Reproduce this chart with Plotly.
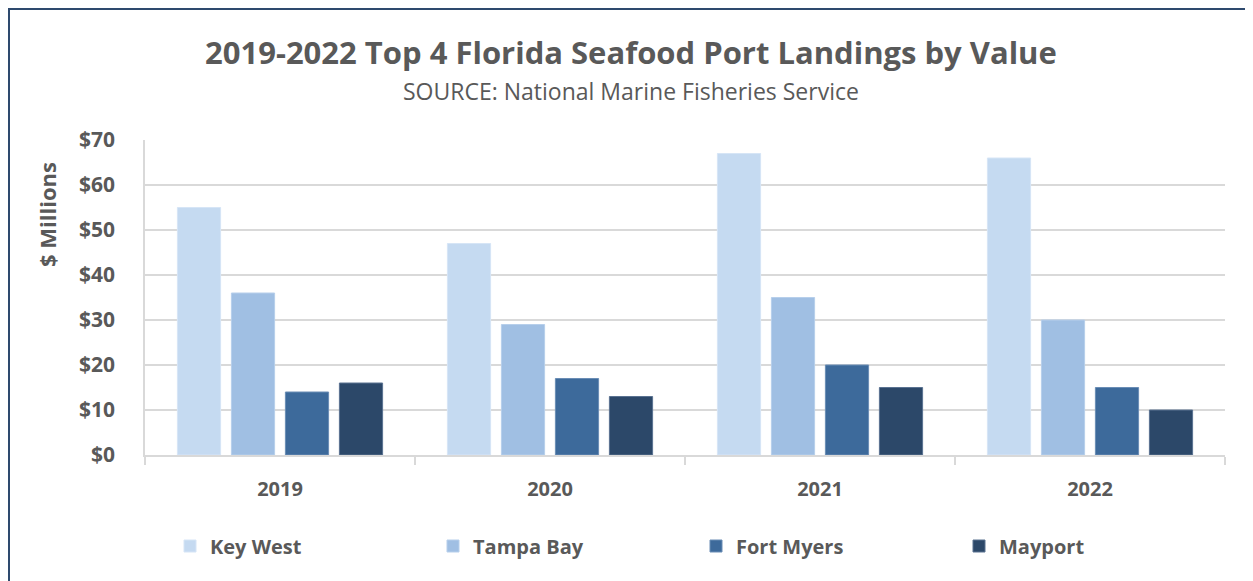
import plotly.graph_objects as go

years = ["2019", "2020", "2021", "2022"]
key_west = [55, 47, 67, 66]
tampa_bay = [36, 29, 35, 30]
fort_myers = [14, 17, 20, 15]
mayport = [16, 13, 15, 10]

series_names = ["Key West", "Tampa Bay", "Fort Myers", "Mayport"]
series_values = [key_west, tampa_bay, fort_myers, mayport]
colors = ["#C5DAF1", "#A0BFE3", "#3D6A9B", "#2C4869"]
edge_colors = ["#D6E5F6", "#B7CFEB", "#6A8DB5", "#5A7291"]

FONT = "Open Sans"
TXT = "#595959"

fig = go.Figure()
for name, vals, c, ec in zip(series_names, series_values, colors, edge_colors):
    fig.add_trace(go.Bar(name=name, x=years, y=vals,
                         marker=dict(color=c, line=dict(color=ec, width=1))))

# page is offset by 8px body margin
OFF = 8
W, H = 1253 - OFF, 581 - OFF
L, R, T, B = 145 - OFF, 28, 140 - OFF, 126
pw, ph = W - L - R, H - T - B

def px_x(x):  # page x -> paper
    return (x - OFF - L) / pw

def px_y(y):  # page y -> paper
    return (H - B - (y - OFF)) / ph

bold = dict(family=FONT, color=TXT, weight="bold")

fig.update_layout(
    width=W, height=H,
    margin=dict(l=L, r=R, t=T, b=B, pad=0),
    plot_bgcolor="white", paper_bgcolor="white",
    barmode="group", bargap=0.2, bargroupgap=0.2,
    font=dict(family=FONT, color=TXT),
    xaxis=dict(type="category", tickson="boundaries", ticks="outside", ticklen=8,
               tickcolor="#D9D9D9", tickwidth=1.5, showline=True, linecolor="#D9D9D9",
               linewidth=1.5, showgrid=False,
               tickfont=dict(size=20, **bold),
               ticklabelstandoff=15),
    yaxis=dict(range=[0, 70], dtick=10, tickprefix="$", showgrid=True,
               gridcolor="#D9D9D9", gridwidth=1.5, showline=True, linecolor="#D9D9D9",
               linewidth=1.5, zeroline=False, ticks="",
               tickfont=dict(size=21, **bold),
               ticklabelstandoff=24),
    legend=dict(orientation="h", x=px_x(170), xanchor="left", y=px_y(546), yanchor="middle",
                font=dict(size=20, **bold),
                entrywidth=218, entrywidthmode="pixels", traceorder="normal"),
    annotations=[
        dict(text="2019-2022 Top 4 Florida Seafood Port Landings by Value",
             x=px_x(631), y=px_y(52), xref="paper", yref="paper", showarrow=False,
             xanchor="center", yanchor="middle", font=dict(size=31, **bold)),
        dict(text="SOURCE: National Marine Fisheries Service", x=px_x(631), y=px_y(91),
             xref="paper", yref="paper", showarrow=False, xanchor="center", yanchor="middle",
             font=dict(size=23, color=TXT, family=FONT)),
        dict(text="$ Millions", x=px_x(47), y=px_y(215), xref="paper", yref="paper",
             showarrow=False, textangle=-90, xanchor="center", yanchor="middle",
             font=dict(size=22, **bold)),
    ],
    shapes=[dict(type="rect", xref="paper", yref="paper",
                 x0=px_x(OFF + 1), x1=px_x(1400), y0=px_y(700), y1=px_y(OFF + 1),
                 line=dict(color="#2E4A6E", width=2), layer="below")],
)

fig.write_html("out.html")
